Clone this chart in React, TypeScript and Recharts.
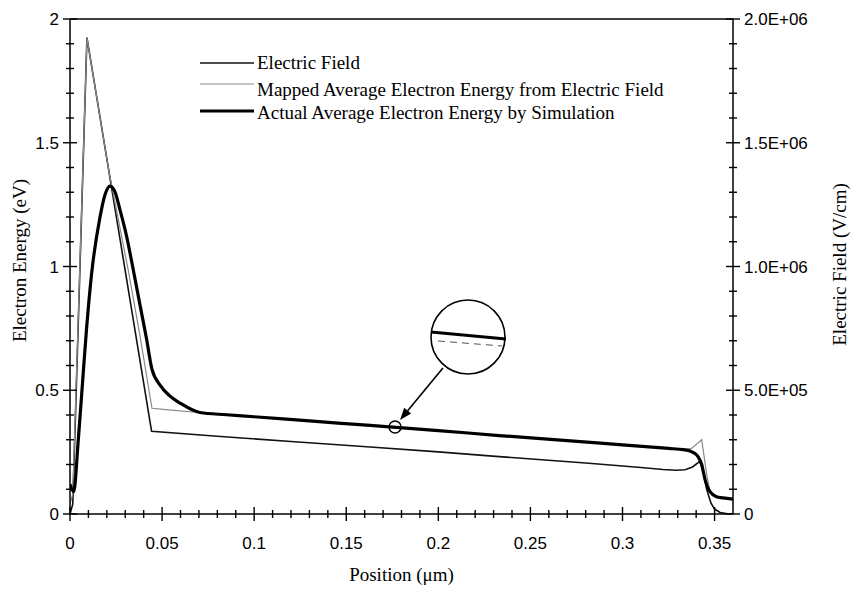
import React from "react";
import { LineChart, Line, XAxis, YAxis, Legend, ReferenceLine, ReferenceDot, Label } from "recharts";

const SANS = "'Liberation Sans', Arial, sans-serif";
const SERIF = "'Liberation Serif', 'Times New Roman', serif";

// position along the device (um)
const fieldPos = [0, 0.0015, 0.0092, 0.0443, 0.08, 0.12, 0.163, 0.2, 0.233, 0.28, 0.31, 0.322, 0.329, 0.334, 0.338, 0.342, 0.344, 0.3457, 0.348, 0.35, 0.353, 0.357, 0.36];
// electric field (V/cm)
const fieldVal = [0, 40000, 1925000, 334000, 314000, 293000, 271000, 251000, 232000, 206000, 188000, 180000, 177000, 179000, 190000, 213000, 165000, 100000, 45000, 20000, 6000, 1000, 0];

const mappedPos = [0, 0.0015, 0.0092, 0.021, 0.0315, 0.038, 0.0445, 0.055, 0.07, 0.085, 0.1, 0.13, 0.163, 0.2, 0.233, 0.288, 0.325, 0.333, 0.3375, 0.343, 0.3457, 0.3475, 0.351, 0.3545, 0.36];
// mapped average electron energy (eV)
const mappedVal = [0.04, 0.08, 1.925, 1.39, 0.99, 0.72, 0.427, 0.42, 0.41, 0.401, 0.393, 0.376, 0.358, 0.337, 0.317, 0.286, 0.265, 0.26, 0.265, 0.3, 0.16, 0.09, 0.07, 0.065, 0.06];

const actualPos = [0, 0.002, 0.0045, 0.0065, 0.009, 0.0118, 0.0163, 0.019, 0.0217, 0.0245, 0.0271, 0.0308, 0.0344, 0.038, 0.0415, 0.0445, 0.049, 0.054, 0.06, 0.0705, 0.085, 0.1, 0.13, 0.163, 0.2, 0.233, 0.288, 0.325, 0.333, 0.3366, 0.339, 0.341, 0.343, 0.3448, 0.3475, 0.351, 0.3545, 0.36];
// actual average electron energy from simulation (eV)
const actualVal = [0.12, 0.09, 0.3, 0.5, 0.75, 0.975, 1.2, 1.29, 1.325, 1.3, 1.23, 1.12, 0.985, 0.845, 0.71, 0.585, 0.52, 0.478, 0.447, 0.41, 0.401, 0.393, 0.376, 0.358, 0.337, 0.317, 0.286, 0.265, 0.26, 0.255, 0.246, 0.232, 0.2, 0.14, 0.09, 0.07, 0.065, 0.06];

const xMajor = [0, 0.05, 0.1, 0.15, 0.2, 0.25, 0.3, 0.35];
const xMajorLabels = ["0", "0.05", "0.1", "0.15", "0.2", "0.25", "0.3", "0.35"];
const xTicks = Array.from({ length: 36 }, (_, i) => i / 100);

const eMajor = [0, 0.5, 1, 1.5, 2];
const eMajorLabels = ["0", "0.5", "1", "1.5", "2"];
const eTicks = Array.from({ length: 21 }, (_, i) => i / 10);

const fMajor = [0, 500000, 1000000, 1500000, 2000000];
const fMajorLabels = ["0", "5.0E+05", "1.0E+06", "1.5E+06", "2.0E+06"];
const fTicks = Array.from({ length: 21 }, (_, i) => i * 100000);

// magnifier annotation (data coordinates)
const spot = { x: 0.1765, y: 0.3515 };
const lens = { x: 0.2161, y: 0.7152 };
const arrowSeg = [{ x: 0.2025, y: 0.59 }, { x: 0.1792, y: 0.38 }];
const lensSolid = [{ x: 0.196, y: 0.7354 }, { x: 0.2367, y: 0.7071 }];
const lensDashed = [{ x: 0.1998, y: 0.699 }, { x: 0.2346, y: 0.6788 }];

const fieldData = fieldPos.map((x, i) => ({ x, field: fieldVal[i] }));
const mappedData = mappedPos.map((x, i) => ({ x, mapped: mappedVal[i] }));
const actualData = actualPos.map((x, i) => ({ x, actual: actualVal[i] }));

const findMajor = (list: number[], v: number) => list.findIndex((m) => Math.abs(m - v) < 1e-9);

const XTick = ({ x, y, payload }: any) => {
  const i = findMajor(xMajor, payload.value);
  const len = i >= 0 ? 7 : 4;
  return (
    <g>
      <line x1={x} x2={x} y1={y - len} y2={y + len} stroke="#000" strokeWidth={1.4} />
      {i >= 0 && (
        <text x={x} y={y + 35} textAnchor="middle" fontSize={17} fontFamily={SANS} fill="#000">
          {xMajorLabels[i]}
        </text>
      )}
    </g>
  );
};

const LeftTick = ({ x, y, payload }: any) => {
  const i = findMajor(eMajor, payload.value);
  const len = i >= 0 ? 7 : 4;
  return (
    <g>
      <line x1={x - len} x2={x + len} y1={y} y2={y} stroke="#000" strokeWidth={1.4} />
      {i >= 0 && (
        <text x={x - 11} y={y} dy="0.36em" textAnchor="end" fontSize={17} fontFamily={SANS} fill="#000">
          {eMajorLabels[i]}
        </text>
      )}
    </g>
  );
};

const RightTick = ({ x, y, payload }: any) => {
  const i = findMajor(fMajor, payload.value);
  const len = i >= 0 ? 7 : 4;
  return (
    <g>
      <line x1={x - len} x2={x + len} y1={y} y2={y} stroke="#000" strokeWidth={1.4} />
      {i >= 0 && (
        <text x={x + 11} y={y} dy="0.36em" textAnchor="start" fontSize={17} fontFamily={SANS} fill="#000">
          {fMajorLabels[i]}
        </text>
      )}
    </g>
  );
};

const ArrowShape = (props: any) => {
  const { x1, y1, x2, y2 } = props;
  const dx = x2 - x1;
  const dy = y2 - y1;
  const d = Math.sqrt(dx * dx + dy * dy) || 1;
  const ux = dx / d;
  const uy = dy / d;
  const bx = x2 - ux * 12;
  const by = y2 - uy * 12;
  const pts = `${x2},${y2} ${bx - uy * 4.5},${by + ux * 4.5} ${bx + uy * 4.5},${by - ux * 4.5}`;
  return (
    <g>
      <line x1={x1} y1={y1} x2={bx} y2={by} stroke="#000" strokeWidth={1.6} />
      <polygon points={pts} fill="#000" />
    </g>
  );
};

const LegendBox = () => (
  <svg width={500} height={86}>
    <line x1={8} x2={62} y1={23} y2={23} stroke="#111" strokeWidth={1.6} />
    <text x={65} y={29} fontSize={19} fontFamily={SERIF} fill="#000">Electric Field</text>
    <line x1={8} x2={62} y1={44} y2={44} stroke="#8a8a8a" strokeWidth={1.2} />
    <text x={65} y={56} fontSize={19} fontFamily={SERIF} fill="#000">Mapped Average Electron Energy from Electric Field</text>
    <line x1={8} x2={62} y1={71} y2={71} stroke="#000" strokeWidth={3.2} />
    <text x={65} y={79} fontSize={19} fontFamily={SERIF} fill="#000">Actual Average Electron Energy by Simulation</text>
  </svg>
);

export default function App() {
  return (
    <div style={{ position: "absolute", left: 0, top: 0, width: 850, height: 590, background: "#fff" }}>
      <LineChart width={850} height={590} margin={{ top: 19, right: 27, bottom: 16, left: 20 }}>
        <XAxis
          dataKey="x"
          type="number"
          domain={[0, 0.36]}
          ticks={xTicks}
          interval={0}
          tickSize={0}
          tickMargin={0}
          tick={XTick}
          height={60}
          axisLine={{ stroke: "#000", strokeWidth: 1.5 }}
          allowDataOverflow
        >
          <Label
            content={({ viewBox }: any) => (
              <text x={viewBox.x + viewBox.width / 2} y={viewBox.y + 67} textAnchor="middle" fontSize={19} fontFamily={SERIF} fill="#000">
                Position (μm)
              </text>
            )}
          />
        </XAxis>
        <YAxis
          yAxisId="left"
          orientation="left"
          type="number"
          domain={[0, 2]}
          ticks={eTicks}
          interval={0}
          tickSize={0}
          tickMargin={0}
          tick={LeftTick}
          width={50}
          axisLine={{ stroke: "#000", strokeWidth: 1.5 }}
          allowDataOverflow
        >
          <Label
            content={({ viewBox }: any) => {
              const cx = viewBox.x + 6;
              const cy = viewBox.y + viewBox.height / 2 - 6;
              return (
                <text x={cx} y={cy} transform={`rotate(-90, ${cx}, ${cy})`} textAnchor="middle" fontSize={19} fontFamily={SERIF} fill="#000">
                  Electron Energy (eV)
                </text>
              );
            }}
          />
        </YAxis>
        <YAxis
          yAxisId="right"
          orientation="right"
          type="number"
          domain={[0, 2000000]}
          ticks={fTicks}
          interval={0}
          tickSize={0}
          tickMargin={0}
          tick={RightTick}
          width={90}
          axisLine={{ stroke: "#000", strokeWidth: 1.5 }}
          allowDataOverflow
        >
          <Label
            content={({ viewBox }: any) => {
              const cx = viewBox.x + 113;
              const cy = viewBox.y + viewBox.height / 2 - 2;
              return (
                <text x={cx} y={cy} transform={`rotate(-90, ${cx}, ${cy})`} textAnchor="middle" fontSize={19} fontFamily={SERIF} fill="#000">
                  Electric Field (V/cm)
                </text>
              );
            }}
          />
        </YAxis>
        <ReferenceLine yAxisId="left" y={2} stroke="#000" strokeWidth={1.5} />
        <Legend
          layout="horizontal"
          verticalAlign="middle"
          align="center"
          wrapperStyle={{ position: "absolute", left: 192, top: 40, width: 500, height: 86 }}
          content={() => <LegendBox />}
        />
        <Line
          yAxisId="right"
          data={fieldData}
          dataKey="field"
          type="linear"
          stroke="#111"
          strokeWidth={1.6}
          dot={false}
          activeDot={false}
          isAnimationActive={false}
        />
        <Line
          yAxisId="left"
          data={mappedData}
          dataKey="mapped"
          type="linear"
          stroke="#8a8a8a"
          strokeWidth={1.2}
          dot={false}
          activeDot={false}
          isAnimationActive={false}
        />
        <Line
          yAxisId="left"
          data={actualData}
          dataKey="actual"
          type="monotone"
          stroke="#000"
          strokeWidth={3.2}
          dot={false}
          activeDot={false}
          isAnimationActive={false}
        />
        <ReferenceDot yAxisId="left" x={spot.x} y={spot.y} r={6} fill="none" stroke="#000" strokeWidth={1.4} />
        <ReferenceDot yAxisId="left" x={lens.x} y={lens.y} r={37} fill="none" stroke="#000" strokeWidth={1.6} />
        <ReferenceLine
          yAxisId="left"
          segment={[lensSolid[0], lensSolid[1]]}
          stroke="#000"
          strokeWidth={3}
        />
        <ReferenceLine
          yAxisId="left"
          segment={[lensDashed[0], lensDashed[1]]}
          stroke="#555"
          strokeWidth={1}
          strokeDasharray="7 5"
        />
        <ReferenceLine
          yAxisId="left"
          segment={[arrowSeg[0], arrowSeg[1]]}
          shape={ArrowShape}
        />
      </LineChart>
    </div>
  );
}
